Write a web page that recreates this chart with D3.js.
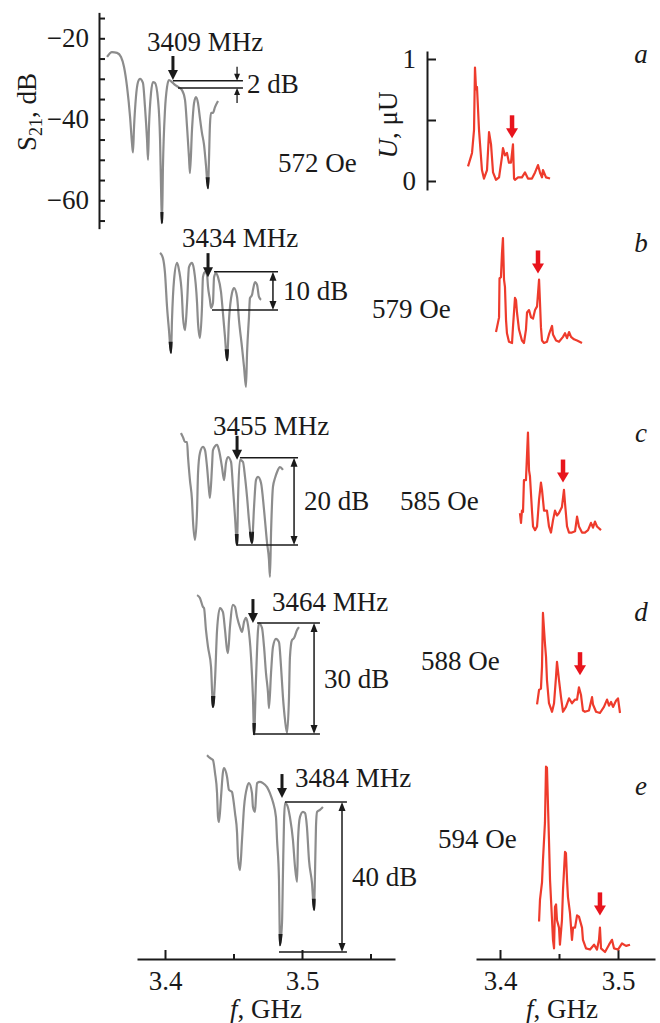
<!DOCTYPE html>
<html><head><meta charset="utf-8">
<script src="https://cdn.jsdelivr.net/npm/d3@7"></script>
<style>
body{margin:0;background:#fff}
svg{display:block}
text{font-family:"Liberation Serif","Times New Roman",serif;fill:#1a1a1a}
</style>
</head><body>
<svg id="c" width="660" height="1023"></svg>
<script>
// ---------------- DATA ----------------
const panelLetters = ["a","b","c","d","e"];
const fieldLabels = ["572 Oe","579 Oe","585 Oe","588 Oe","594 Oe"];
const markerLabels = ["3409 MHz","3434 MHz","3455 MHz","3464 MHz","3484 MHz"];
const markerPosMHz = [3405.8,3431.4,3452.6,3464.2,3485.4];
const markerTipDB = [-30.3,-26.7,-28.6,-29.4,-33.1];
const redMarkerMHz = [3410.2,3432.2,3453.4,3467.8,3484.7];
const redTipU = [0.35,0.57,0.43,0.31,0.30];
const bracketLabels = ["2 dB","10 dB","20 dB","30 dB","40 dB"];
const bracketTopDB = [-30.5,-25.4,-28.1,-29.4,-34.1];
const bracketBottomDB = [-32.3,-34.8,-49.6,-56.8,-71.1];
const bracketTopStart = [3405.8,3435.8,3454.7,3467.2,3487.6];
const bracketBottomStart = [3409.5,3434.3,3452.6,3464.2,3483.2];
const bracketEnd = [3456.9,3482.5,3497.1,3513.1,3532.8];
const bracketArrowMHz = [3452.6,3478.8,3494.2,3508.8,3529.2];

const s21TickValues = [-65,-60,-55,-50,-45,-40,-35,-30,-25,-20,-15];
const s21TickLabels = [-20,-40,-60];
const uTickValues = [0,0.5,1];
const uTickLabels = [0,1];
const fMajorTicks = [3400,3500];
const fMinorTicksL = [3450,3550];
const fMinorTicksR = [3450];

// S21 traces [MHz, dB]
const s21A = [[3357.7,-24.6],[3361.3,-23.4],[3365.0,-23.6],[3367.9,-24.6],[3370.1,-27.1],[3372.3,-32.0],[3374.5,-39.4],[3375.9,-45.9],[3376.6,-48.2],[3377.4,-41.9],[3378.8,-34.5],[3380.3,-30.8],[3381.8,-30.0],[3383.9,-31.0],[3385.4,-37.0],[3386.9,-45.1],[3387.6,-50.0],[3388.3,-41.9],[3389.8,-33.5],[3391.2,-30.8],[3392.7,-31.0],[3394.9,-35.2],[3396.4,-45.1],[3397.1,-56.7],[3397.8,-65.6],[3398.5,-51.8],[3400.0,-37.7],[3401.5,-32.0],[3402.9,-30.3],[3405.1,-30.8],[3407.3,-31.5],[3409.5,-32.0],[3412.4,-32.8],[3414.6,-35.2],[3416.1,-41.9],[3417.5,-49.3],[3418.2,-53.3],[3419.7,-42.6],[3421.2,-36.0],[3422.6,-34.5],[3424.1,-36.0],[3425.5,-39.7],[3427.0,-43.4],[3428.5,-46.3],[3429.9,-51.3],[3431.4,-57.0],[3432.1,-50.0],[3432.8,-41.4],[3433.6,-38.4],[3435.0,-38.4],[3436.5,-37.0],[3438.7,-35.5]];
const s21B = [[3396.4,-20.7],[3398.5,-22.0],[3400.0,-25.7],[3401.5,-34.1],[3402.9,-39.8],[3404.4,-45.4],[3405.1,-37.3],[3406.6,-27.4],[3408.8,-23.2],[3410.2,-24.9],[3412.4,-31.6],[3413.1,-36.5],[3414.6,-39.8],[3416.1,-33.1],[3417.5,-24.2],[3419.7,-23.2],[3421.2,-24.9],[3423.4,-33.1],[3424.1,-38.0],[3425.5,-41.7],[3427.0,-34.1],[3427.7,-26.7],[3429.2,-25.4],[3430.7,-26.2],[3431.4,-29.1],[3432.8,-32.3],[3433.6,-34.3],[3435.0,-33.1],[3435.8,-26.7],[3437.2,-25.7],[3438.7,-26.7],[3440.9,-30.4],[3442.3,-35.6],[3443.8,-41.5],[3445.3,-47.2],[3446.7,-37.3],[3448.9,-30.6],[3450.4,-29.4],[3452.6,-31.6],[3454.0,-37.3],[3456.2,-44.0],[3457.7,-48.9],[3459.1,-53.8],[3459.9,-45.4],[3461.3,-36.5],[3462.0,-31.9],[3463.5,-31.1],[3464.2,-29.9],[3465.7,-27.9],[3467.2,-28.6],[3468.6,-31.6],[3470.1,-32.3]];
const s21C = [[3411.7,-22.0],[3413.1,-23.0],[3414.6,-24.2],[3416.1,-24.2],[3416.8,-27.9],[3418.2,-33.6],[3419.7,-38.5],[3420.4,-43.5],[3421.9,-48.4],[3423.4,-41.0],[3424.1,-31.9],[3425.5,-26.9],[3427.7,-25.4],[3429.2,-26.2],[3430.7,-30.4],[3432.1,-36.0],[3432.8,-38.0],[3434.3,-30.4],[3435.0,-26.2],[3438.0,-24.9],[3439.4,-26.2],[3441.6,-30.4],[3443.1,-33.6],[3444.5,-29.4],[3446.0,-27.9],[3448.2,-29.1],[3449.6,-35.3],[3451.1,-42.7],[3452.6,-49.6],[3453.3,-38.5],[3454.7,-28.6],[3456.9,-29.1],[3458.4,-32.8],[3459.9,-37.8],[3461.3,-43.5],[3463.5,-49.1],[3465.0,-40.2],[3466.4,-33.6],[3467.9,-32.8],[3470.1,-34.3],[3472.3,-41.0],[3474.5,-49.1],[3475.9,-53.3],[3476.6,-57.5],[3477.4,-46.7],[3478.8,-35.3],[3480.3,-33.1],[3481.8,-31.6],[3483.9,-30.4],[3486.1,-31.1]];
const s21D = [[3423.4,-22.5],[3425.5,-23.2],[3427.7,-25.4],[3428.5,-25.7],[3429.9,-31.1],[3431.4,-35.3],[3433.6,-40.2],[3435.0,-50.1],[3436.5,-43.5],[3438.0,-31.1],[3440.1,-25.7],[3442.3,-26.7],[3443.8,-31.1],[3445.3,-36.0],[3446.0,-36.8],[3447.4,-30.4],[3449.6,-24.9],[3451.1,-25.4],[3452.6,-27.9],[3454.7,-30.4],[3456.2,-31.6],[3457.7,-29.1],[3459.1,-28.1],[3460.6,-29.9],[3462.8,-37.8],[3464.2,-47.7],[3465.0,-56.8],[3466.4,-43.5],[3467.9,-31.1],[3468.6,-29.4],[3470.8,-30.6],[3472.3,-35.3],[3473.7,-41.7],[3475.2,-46.7],[3475.9,-50.4],[3477.4,-41.7],[3478.8,-35.3],[3481.0,-33.3],[3483.2,-34.1],[3484.7,-40.2],[3486.1,-47.7],[3487.6,-53.3],[3489.1,-56.5],[3490.5,-47.7],[3491.2,-37.8],[3492.7,-33.6],[3494.2,-33.1],[3496.4,-31.1],[3497.8,-30.4]];
const s21E = [[3430.7,-22.5],[3432.8,-23.2],[3435.0,-23.7],[3436.5,-26.9],[3438.0,-31.9],[3438.7,-37.8],[3439.4,-39.0],[3440.9,-32.8],[3442.3,-26.7],[3443.1,-25.7],[3445.3,-27.9],[3446.7,-31.1],[3448.9,-31.6],[3449.6,-32.8],[3451.1,-36.8],[3452.6,-41.7],[3453.3,-47.7],[3454.7,-50.9],[3456.2,-43.5],[3457.7,-35.3],[3459.9,-30.4],[3461.3,-29.4],[3463.5,-31.9],[3464.2,-35.3],[3465.7,-36.5],[3466.4,-32.8],[3467.2,-29.4],[3469.3,-29.1],[3471.5,-29.4],[3474.5,-30.4],[3476.6,-31.9],[3478.8,-34.1],[3481.0,-37.8],[3481.8,-43.5],[3483.2,-53.3],[3483.6,-63.2],[3483.9,-69.4],[3485.4,-64.0],[3486.1,-51.6],[3486.9,-38.5],[3487.6,-34.3],[3489.1,-34.8],[3491.2,-37.8],[3493.4,-43.5],[3494.9,-50.1],[3496.4,-53.8],[3497.1,-43.5],[3498.5,-37.8],[3500.7,-36.5],[3502.2,-36.8],[3503.6,-40.2],[3505.1,-48.4],[3507.3,-54.1],[3508.8,-60.7],[3509.5,-51.6],[3510.2,-40.2],[3511.0,-36.5],[3513.1,-36.0],[3515.3,-35.3]];

// Detector voltage traces [MHz, U (μU)]
const uA = [[3372.9,0.12],[3375.4,0.20],[3376.3,0.23],[3378.0,0.42],[3378.8,0.93],[3379.7,0.75],[3380.5,0.77],[3382.2,0.42],[3384.7,0.09],[3386.4,0.02],[3389.0,0.09],[3390.7,0.40],[3392.4,0.30],[3394.1,0.07],[3396.6,0.01],[3399.2,0.03],[3401.7,0.20],[3402.5,0.27],[3404.2,0.21],[3405.9,0.23],[3407.6,0.15],[3409.3,0.15],[3411.0,0.30],[3411.9,0.02],[3412.7,0.01],[3415.3,0.03],[3418.6,0.03],[3421.2,0.07],[3423.7,0.02],[3427.1,0.02],[3429.7,0.07],[3432.2,0.13],[3433.9,0.07],[3435.6,0.03],[3436.4,0.09],[3439.0,0.03],[3442.4,0.02]];
const uB = [[3396.6,0.09],[3397.5,0.13],[3399.2,0.21],[3399.6,0.53],[3400.8,0.54],[3401.7,0.74],[3402.5,0.86],[3403.4,0.52],[3404.2,0.46],[3405.1,0.19],[3405.9,0.08],[3407.6,0.01],[3410.2,0.00],[3411.0,0.13],[3412.7,0.37],[3413.6,0.35],[3414.4,0.25],[3416.1,0.11],[3418.6,0.02],[3420.3,0.00],[3422.0,0.11],[3422.9,0.25],[3424.6,0.27],[3426.3,0.21],[3428.0,0.20],[3429.7,0.27],[3431.4,0.30],[3433.1,0.52],[3433.9,0.33],[3434.7,0.13],[3435.6,0.02],[3437.3,0.00],[3439.8,0.01],[3441.5,0.07],[3444.1,0.14],[3444.9,0.07],[3447.5,0.02],[3450.0,0.01],[3453.4,0.05],[3455.1,0.08],[3456.8,0.04],[3458.5,0.09],[3460.2,0.05],[3462.7,0.03],[3465.3,0.02],[3469.5,0.00]];
const uC = [[3416.9,0.18],[3417.8,0.10],[3418.6,0.20],[3419.5,0.19],[3420.3,0.45],[3422.0,0.45],[3423.7,0.84],[3424.6,0.53],[3425.4,0.48],[3427.1,0.20],[3428.0,0.07],[3429.7,0.04],[3431.4,0.07],[3433.1,0.29],[3434.7,0.43],[3435.6,0.37],[3437.3,0.20],[3439.8,0.20],[3441.5,0.07],[3443.2,0.02],[3444.9,0.12],[3446.6,0.20],[3448.3,0.16],[3450.0,0.18],[3452.5,0.23],[3454.2,0.37],[3455.1,0.26],[3456.8,0.07],[3458.5,0.02],[3461.0,0.02],[3463.6,0.03],[3465.3,0.15],[3466.9,0.07],[3469.5,0.02],[3472.0,0.02],[3474.6,0.04],[3477.1,0.10],[3478.8,0.06],[3480.5,0.11],[3482.2,0.07],[3485.6,0.04]];
const uD = [[3431.4,0.07],[3433.1,0.19],[3434.7,0.20],[3435.6,0.38],[3436.4,0.82],[3438.1,0.57],[3439.0,0.46],[3439.8,0.27],[3441.5,0.08],[3444.1,0.01],[3445.8,0.08],[3447.5,0.30],[3448.3,0.42],[3450.0,0.27],[3451.7,0.13],[3453.4,0.01],[3455.9,0.05],[3458.5,0.12],[3461.0,0.08],[3463.6,0.11],[3465.3,0.11],[3466.9,0.21],[3468.6,0.15],[3470.3,0.02],[3472.0,0.01],[3475.4,0.02],[3478.0,0.13],[3478.8,0.07],[3481.4,0.01],[3484.7,0.00],[3488.1,0.05],[3490.7,0.11],[3492.4,0.06],[3494.1,0.09],[3495.8,0.05],[3498.3,0.10],[3500.0,0.12],[3501.7,0.00]];
const uE = [[3433.1,0.25],[3433.9,0.43],[3435.6,0.57],[3436.4,0.75],[3438.1,1.06],[3439.0,1.52],[3439.8,1.51],[3440.7,1.19],[3441.5,0.92],[3442.4,0.59],[3444.1,0.26],[3444.9,0.10],[3445.8,0.03],[3446.6,0.37],[3447.5,0.39],[3448.3,0.26],[3450.0,0.20],[3450.8,0.06],[3452.5,0.26],[3453.4,0.51],[3455.1,0.82],[3455.9,0.81],[3456.8,0.59],[3457.6,0.45],[3459.3,0.32],[3461.0,0.10],[3461.9,0.20],[3463.6,0.20],[3465.3,0.30],[3466.9,0.29],[3469.5,0.20],[3470.3,0.10],[3472.9,0.03],[3476.3,0.02],[3479.7,0.06],[3482.2,0.02],[3483.9,0.10],[3484.7,0.20],[3485.6,0.03],[3489.0,0.00],[3492.4,0.06],[3494.9,0.10],[3496.6,0.03],[3500.0,0.02],[3503.4,0.07],[3506.8,0.05],[3510.2,0.06]];

const s21Traces = [s21A,s21B,s21C,s21D,s21E];
const uTraces = [uA,uB,uC,uD,uE];

// ---------------- LAYOUT ----------------
const svg = d3.select("#c");
const FS = 27;
const INK = "#1a1a1a";
const GRAY = "#8c8c8c";
const RED = "#ee3b2c";
const ARED = "#e8141c";

const leftRef = [38.3,250,425,585,745];     // y of -20 dB for each left panel
const rightBase = [181,343,535,713,952];    // y of U = 0 for each right panel
const xL = d3.scaleLinear().domain([3400,3500]).range([165,302]);
const xR = d3.scaleLinear().domain([3400,3500]).range([500,618]);
const yL = leftRef.map(r => d3.scaleLinear().domain([-20,-60]).range([r, r+162]));
const yR = rightBase.map(b => d3.scaleLinear().domain([0,1]).range([b, b-122]));
const AXIS_Y = 959;

function styleAxis(g){
  g.attr("font-family",null).attr("font-size",null);
  g.selectAll(".domain").attr("stroke",INK).attr("stroke-width",2);
  g.selectAll(".tick line").attr("stroke",INK).attr("stroke-width",2);
  g.selectAll(".tick text").attr("font-size",FS).attr("fill",INK)
    .style("font-family",'"Liberation Serif","Times New Roman",serif');
}

// ---- left S21 axis (panel a) ----
const yAx = d3.scaleLinear().domain([-13.6,-67]).range([yL[0](-13.6), yL[0](-67)]);
svg.append("g").attr("transform","translate(99,0)")
  .call(d3.axisLeft(yAx).tickValues(s21TickValues).tickSizeInner(-6).tickSizeOuter(0).tickPadding(10)
    .tickFormat(d => s21TickLabels.includes(d) ? "\u2212" + Math.abs(d) : ""))
  .call(styleAxis);

// ---- right U axis (panel a) ----
const uAx = d3.scaleLinear().domain([yR[0].invert(190), yR[0].invert(51)]).range([190,51]);
svg.append("g").attr("transform","translate(427,0)")
  .call(d3.axisLeft(uAx).tickValues(uTickValues).tickSizeInner(-9).tickSizeOuter(0).tickPadding(11)
    .tickFormat(d => uTickLabels.includes(d) ? String(d) : ""))
  .call(styleAxis);

// ---- bottom axes ----
function bottomAxis(x, x0, x1, minor){
  const s = d3.scaleLinear().domain([x.invert(x0), x.invert(x1)]).range([x0,x1]);
  svg.append("g").attr("transform",`translate(0,${AXIS_Y})`)
    .call(d3.axisBottom(s).tickValues(fMajorTicks).tickSizeInner(-9).tickSizeOuter(0).tickPadding(12)
      .tickFormat(d => (d/1000).toFixed(1)))
    .call(styleAxis);
  const g2 = svg.append("g").attr("transform",`translate(0,${AXIS_Y})`)
    .call(d3.axisBottom(s).tickValues(minor).tickSizeInner(-5).tickSizeOuter(0).tickFormat(""))
    .call(styleAxis);
  g2.select(".domain").remove();
}
bottomAxis(xL, 137, 395, fMinorTicksL);
bottomAxis(xR, 476, 655, fMinorTicksR);

// ---- axis titles ----
const t1 = svg.append("text").attr("transform","translate(36,112) rotate(-90)").attr("text-anchor","middle").attr("font-size",FS);
t1.append("tspan").text("S");
t1.append("tspan").attr("font-size",18).attr("dy",6).text("21");
t1.append("tspan").attr("dy",-6).text(", dB");

const t2 = svg.append("text").attr("transform","translate(397,125) rotate(-90)").attr("text-anchor","middle").attr("font-size",FS);
t2.append("tspan").attr("font-style","italic").text("U");
t2.append("tspan").text(", \u03bcU");

[[266],[562]].forEach(([cx]) => {
  const t = svg.append("text").attr("x",cx).attr("y",1018).attr("text-anchor","middle").attr("font-size",FS);
  t.append("tspan").attr("font-style","italic").text("f");
  t.append("tspan").text(", GHz");
});

// ---- helpers ----
function arrow(g, x, y0, y1, color, shaftW, headW, headL){
  const dir = y1 > y0 ? 1 : -1;
  g.append("line").attr("x1",x).attr("x2",x).attr("y1",y0).attr("y2",y1 - dir*headL*0.7)
    .attr("stroke",color).attr("stroke-width",shaftW);
  g.append("path").attr("d",`M${x-headW/2},${y1-dir*headL}L${x+headW/2},${y1-dir*headL}L${x},${y1}Z`)
    .attr("fill",color);
}

const defs = svg.append("defs");
let clipId = 0;

const oeX = [278,372,400,421,438];
const oeBase = [172,318,510,670,848];
const letterBase = [63,252,442,621,795];
const markerDx = [-26,-26,-24,19,13];
const markerDy = [-5,-6,-1,12,13];
const bracketStyle = ["outer","inner","inner","inner","inner"];

panelLetters.forEach((letter, i) => {
  const g = svg.append("g");
  const y = yL[i], yr = yR[i];

  // S21 trace
  const line = d3.line().x(d => xL(d[0])).y(d => y(d[1])).curve(d3.curveMonotoneX);
  const data = s21Traces[i];
  g.append("path").attr("d", line(data)).attr("fill","none").attr("stroke",GRAY)
    .attr("stroke-width",2.2).attr("stroke-linejoin","round");
  // dark dip tips
  data.forEach((d, k) => {
    if (k === 0 || k === data.length-1) return;
    if (d[1] < data[k-1][1] && d[1] < data[k+1][1] && data[k-1][1] - d[1] > 5) {
      const id = "clip" + (clipId++);
      const cy = y(d[1]);
      defs.append("clipPath").attr("id",id).append("rect")
        .attr("x", xL(data[k-1][0]) - 3).attr("width", xL(data[k+1][0]) - xL(data[k-1][0]) + 6)
        .attr("y", cy - 11).attr("height", 14);
      g.append("path").attr("d", line(data)).attr("fill","none").attr("stroke","#1c1c1c")
        .attr("stroke-width",2.4).attr("clip-path",`url(#${id})`);
    }
  });

  // black frequency marker
  const mx = xL(markerPosMHz[i]);
  const tip = y(markerTipDB[i]);
  arrow(g, mx, tip - 24, tip, INK, 3, 10, 10);
  g.append("text").attr("x", mx + markerDx[i]).attr("y", tip - 24 + markerDy[i])
    .attr("font-size",FS).text(markerLabels[i]);

  // bracket
  const yt = y(bracketTopDB[i]), yb = y(bracketBottomDB[i]);
  const xe = xL(bracketEnd[i]), xa = xL(bracketArrowMHz[i]);
  g.append("line").attr("x1",xL(bracketTopStart[i])).attr("x2",xe).attr("y1",yt).attr("y2",yt)
    .attr("stroke",INK).attr("stroke-width",1.5);
  g.append("line").attr("x1",xL(bracketBottomStart[i])).attr("x2",xe).attr("y1",yb).attr("y2",yb)
    .attr("stroke",INK).attr("stroke-width",1.5);
  if (bracketStyle[i] === "outer") {
    arrow(g, xa, yt - 14, yt, INK, 1.3, 6, 7);
    arrow(g, xa, yb + 15, yb, INK, 1.3, 6, 7);
  } else {
    g.append("line").attr("x1",xa).attr("x2",xa).attr("y1",yt+5).attr("y2",yb-5)
      .attr("stroke",INK).attr("stroke-width",1.5);
    g.append("path").attr("d",`M${xa-3.5},${yt+9}L${xa+3.5},${yt+9}L${xa},${yt}Z`).attr("fill",INK);
    g.append("path").attr("d",`M${xa-3.5},${yb-9}L${xa+3.5},${yb-9}L${xa},${yb}Z`).attr("fill",INK);
  }
  g.append("text").attr("x", xa + 10).attr("y", (yt+yb)/2 + 9).attr("font-size",FS).text(bracketLabels[i]);

  // field label
  g.append("text").attr("x",oeX[i]).attr("y",oeBase[i]).attr("font-size",FS).text(fieldLabels[i]);

  // U trace
  const rline = d3.line().x(d => xR(d[0])).y(d => yr(d[1]));
  g.append("path").attr("d", rline(uTraces[i])).attr("fill","none").attr("stroke",RED)
    .attr("stroke-width",2.2).attr("stroke-linejoin","round");
  const rx = xR(redMarkerMHz[i]);
  const rtip = yr(redTipU[i]);
  arrow(g, rx, rtip - 23, rtip, ARED, 4.5, 12, 10);

  // panel letter
  g.append("text").attr("x",641).attr("y",letterBase[i]).attr("text-anchor","middle")
    .attr("font-size",FS).attr("font-style","italic").text(letter);
});
</script>
</body></html>
